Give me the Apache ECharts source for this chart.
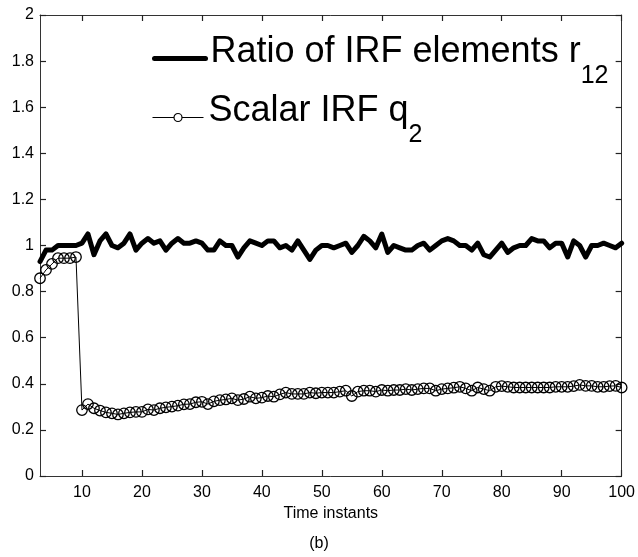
<!DOCTYPE html>
<html>
<head>
<meta charset="utf-8">
<script src="https://cdn.jsdelivr.net/npm/echarts@6/dist/echarts.min.js"></script>
<style>
html,body{margin:0;padding:0;background:#fff;}
#chart{width:638px;height:557px;}
</style>
</head>
<body>
<div id="chart"></div>
<script>
const timeInstants = [3,4,5,6,7,8,9,10,11,12,13,14,15,16,17,18,19,20,21,22,23,24,25,26,27,28,29,30,31,32,33,34,35,36,37,38,39,40,41,42,43,44,45,46,47,48,49,50,51,52,53,54,55,56,57,58,59,60,61,62,63,64,65,66,67,68,69,70,71,72,73,74,75,76,77,78,79,80,81,82,83,84,85,86,87,88,89,90,91,92,93,94,95,96,97,98,99,100];

const ratioR12 = [0.93,0.98,0.98,1.0,1.0,1.0,1.0,1.01,1.05,0.96,1.02,1.05,1.0,0.99,1.01,1.05,0.98,1.01,1.03,1.01,1.02,0.98,1.01,1.03,1.01,1.01,1.02,1.01,0.98,0.98,1.02,1.0,1.0,0.95,0.99,1.02,1.01,1.0,1.02,1.02,0.99,1.0,0.98,1.02,0.98,0.94,0.98,
1.0,1.0,0.99,1.0,1.01,0.97,1.0,1.04,1.02,0.99,1.05,0.97,1.0,0.99,0.98,0.98,1.0,1.01,0.98,1.0,1.02,1.03,1.02,1.0,1.0,0.98,1.01,0.96,0.95,0.98,1.01,0.97,0.99,1.0,1.0,1.03,1.02,1.02,0.99,1.01,1.01,0.95,1.02,1.0,0.95,1.0,1.0,1.01,1.0,0.99,1.01];

const scalarQ2 = [0.858,0.894,0.92,0.945,0.945,0.945,0.95,0.286,0.312,0.294,0.284,0.276,0.272,0.267,0.272,0.276,0.278,0.278,0.289,0.286,0.294,0.298,0.301,0.305,0.311,0.312,0.320,0.322,0.312,0.324,0.329,0.332,0.337,0.329,0.334,0.344,0.337,0.340,0.347,0.344,0.354,0.362,0.356,0.356,0.356,0.362,0.359,
0.362,0.362,0.362,0.366,0.370,0.347,0.366,0.370,0.370,0.366,0.373,0.370,0.373,0.373,0.377,0.373,0.377,0.380,0.380,0.370,0.377,0.380,0.383,0.387,0.380,0.370,0.384,0.377,0.370,0.387,0.390,0.387,0.384,0.384,0.384,0.384,0.384,0.384,0.384,0.387,0.387,0.387,0.390,0.395,0.391,0.391,0.387,0.387,0.390,0.391,0.384];

const xTicks = [10,20,30,40,50,60,70,80,90,100];
const xRange = [3, 100];
const yRange = [0, 2];
const yStep = 0.2;

const FONT = 'Liberation Sans, Arial, Helvetica, sans-serif';

const pairs = (ys) => timeInstants.map((t, i) => [t, ys[i]]);

const chart = echarts.init(document.getElementById('chart'), null, {renderer: 'canvas'});

function axisLine() { return {show: true, onZero: false, lineStyle: {color: '#333', width: 1}}; }
function tickIn(extra) { return Object.assign({show: true, inside: true, length: 6, lineStyle: {color: '#222', width: 1.2}}, extra || {}); }

const legendRich = {
  m: {fontFamily: FONT, fontSize: 36, lineHeight: 40, verticalAlign: 'top', color: '#000'},
  s: {fontFamily: FONT, fontSize: 25, lineHeight: 28, padding: [30, 0, 0, 0], verticalAlign: 'top', color: '#000'}
};
function legendBase(top, item) {
  return {
    orient: 'vertical', left: 152, top: top, padding: 0,
    itemWidth: 51, itemHeight: 10, selectedMode: false,
    data: [item],
    formatter: function (name) {
      if (name === 'Ratio of IRF elements r12') return '{m|Ratio of IRF elements r}{s|12}';
      return '{m|Scalar IRF q}{s|2}';
    },
    textStyle: {fontFamily: FONT, color: '#000', padding: [0, 0, 9, 0], rich: legendRich}
  };
}

chart.setOption({
  animation: false,
  backgroundColor: '#fff',
  textStyle: {fontFamily: FONT},
  title: {
    text: '(b)',
    left: 'center',
    top: 531,
    textStyle: {fontFamily: FONT, fontSize: 16, fontWeight: 'normal', color: '#000'}
  },
  grid: {left: 40, right: 15, top: 15, bottom: 81, containLabel: false},
  legend: [
    legendBase(34, {name: 'Ratio of IRF elements r12', lineStyle: {width: 5, color: '#000'}, itemStyle: {color: 'rgba(0,0,0,0)', borderWidth: 0}}),
    legendBase(93, {name: 'Scalar IRF q2', lineStyle: {width: 1, color: '#000'}, itemStyle: {color: '#fff', borderColor: '#000', borderWidth: 1.2}})
  ],
  xAxis: [
    {
      type: 'value', position: 'bottom', min: xRange[0], max: xRange[1],
      axisLine: axisLine(),
      axisTick: tickIn({customValues: xTicks}),
      axisLabel: {customValues: xTicks, fontSize: 16, color: '#000', margin: 9, fontFamily: FONT},
      splitLine: {show: false},
      name: 'Time instants', nameLocation: 'middle', nameGap: 30,
      nameTextStyle: {fontSize: 16, color: '#000', fontFamily: FONT}
    },
    {
      type: 'value', position: 'top', min: xRange[0], max: xRange[1],
      axisLine: axisLine(),
      axisTick: tickIn({customValues: xTicks}),
      axisLabel: {show: false, customValues: xTicks},
      splitLine: {show: false}
    }
  ],
  yAxis: [
    {
      type: 'value', position: 'left', min: yRange[0], max: yRange[1], interval: yStep,
      axisLine: axisLine(), axisTick: tickIn(),
      axisLabel: {fontSize: 16, color: '#000', margin: 6, fontFamily: FONT},
      splitLine: {show: false}
    },
    {
      type: 'value', position: 'right', min: yRange[0], max: yRange[1], interval: yStep,
      axisLine: axisLine(), axisTick: tickIn(),
      axisLabel: {show: false},
      splitLine: {show: false}
    }
  ],
  series: [
    {
      name: 'Scalar IRF q2', type: 'line', data: pairs(scalarQ2),
      xAxisIndex: 0, yAxisIndex: 0,
      symbol: 'circle', symbolSize: 10.5, showAllSymbol: true,
      lineStyle: {color: '#000', width: 1},
      itemStyle: {color: 'rgba(0,0,0,0)', borderColor: '#000', borderWidth: 1.3},
      z: 2
    },
    {
      name: 'Ratio of IRF elements r12', type: 'line', data: pairs(ratioR12),
      xAxisIndex: 0, yAxisIndex: 0,
      symbol: 'none', showSymbol: false,
      lineStyle: {color: '#000', width: 5, join: 'round', cap: 'round'},
      itemStyle: {color: '#000'},
      z: 3
    }
  ]
});
</script>
</body>
</html>
